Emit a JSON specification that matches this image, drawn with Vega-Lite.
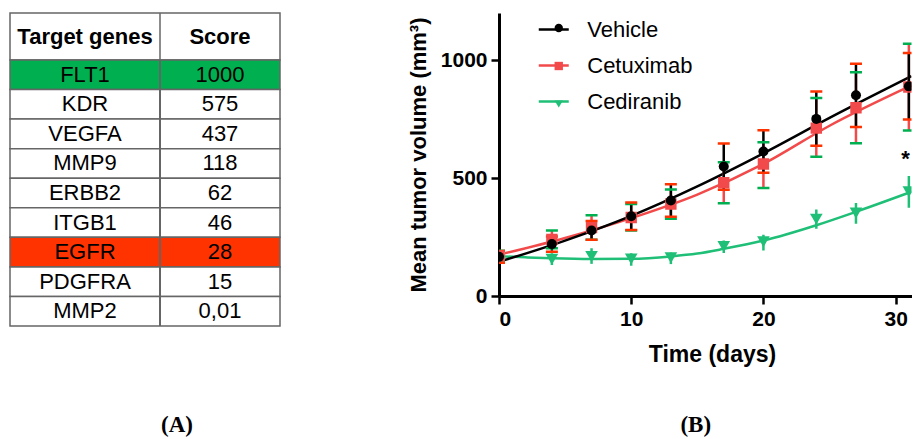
{
  "$schema": "https://vega.github.io/schema/vega-lite/v6.json",
  "background": "white",
  "padding": {"left": 9, "top": 12, "right": 0, "bottom": 0},
  "autosize": {"type": "pad"},
  "config": {
    "view": {"stroke": null},
    "font": "Liberation Sans",
    "axis": {"domainColor": "black", "domainWidth": 3, "tickColor": "black", "tickWidth": 2.5, "tickSize": 8, "labelFont": "Liberation Sans", "labelFontSize": 21, "labelFontWeight": "bold", "labelColor": "black", "titleFont": "Liberation Sans", "titleFontSize": 23, "titleFontWeight": "bold", "titleColor": "black", "grid": false}
  },
  "datasets": {
    "header": [{"gene": "Target genes", "score": "Score"}],
    "table": [
      {"gene": "FLT1", "score": "1000", "hl": "green"},
      {"gene": "KDR", "score": "575", "hl": "none"},
      {"gene": "VEGFA", "score": "437", "hl": "none"},
      {"gene": "MMP9", "score": "118", "hl": "none"},
      {"gene": "ERBB2", "score": "62", "hl": "none"},
      {"gene": "ITGB1", "score": "46", "hl": "none"},
      {"gene": "EGFR", "score": "28", "hl": "red"},
      {"gene": "PDGFRA", "score": "15", "hl": "none"},
      {"gene": "MMP2", "score": "0,01", "hl": "none"}
    ],
    "obs": [
      {"series": "Cediranib", "day": 0, "mean": 168, "lo": 150, "hi": 186},
      {"series": "Cediranib", "day": 4, "mean": 156, "lo": 126, "hi": 187},
      {"series": "Cediranib", "day": 7, "mean": 168, "lo": 131, "hi": 208},
      {"series": "Cediranib", "day": 10, "mean": 157, "lo": 123, "hi": 187},
      {"series": "Cediranib", "day": 13, "mean": 162, "lo": 130, "hi": 190},
      {"series": "Cediranib", "day": 17, "mean": 210, "lo": 177, "hi": 241},
      {"series": "Cediranib", "day": 20, "mean": 230, "lo": 188, "hi": 265},
      {"series": "Cediranib", "day": 24, "mean": 326, "lo": 280, "hi": 372},
      {"series": "Cediranib", "day": 27, "mean": 352, "lo": 301, "hi": 400},
      {"series": "Cediranib", "day": 31, "mean": 442, "lo": 369, "hi": 514},
      {"series": "Cetuximab", "day": 0, "mean": 170, "lo": 148, "hi": 192},
      {"series": "Cetuximab", "day": 4, "mean": 240, "lo": 202, "hi": 278},
      {"series": "Cetuximab", "day": 7, "mean": 290, "lo": 238, "hi": 342},
      {"series": "Cetuximab", "day": 10, "mean": 333, "lo": 278, "hi": 390},
      {"series": "Cetuximab", "day": 13, "mean": 390, "lo": 328, "hi": 452},
      {"series": "Cetuximab", "day": 17, "mean": 480, "lo": 393, "hi": 567},
      {"series": "Cetuximab", "day": 20, "mean": 560, "lo": 458, "hi": 652},
      {"series": "Cetuximab", "day": 24, "mean": 712, "lo": 590, "hi": 840},
      {"series": "Cetuximab", "day": 27, "mean": 798, "lo": 648, "hi": 949},
      {"series": "Cetuximab", "day": 31, "mean": 886, "lo": 702, "hi": 1070},
      {"series": "Vehicle", "day": 0, "mean": 166, "lo": 141, "hi": 191},
      {"series": "Vehicle", "day": 4, "mean": 220, "lo": 188, "hi": 252},
      {"series": "Vehicle", "day": 7, "mean": 278, "lo": 238, "hi": 318},
      {"series": "Vehicle", "day": 10, "mean": 338, "lo": 280, "hi": 396},
      {"series": "Vehicle", "day": 13, "mean": 405, "lo": 336, "hi": 474},
      {"series": "Vehicle", "day": 17, "mean": 549, "lo": 451, "hi": 647},
      {"series": "Vehicle", "day": 20, "mean": 613, "lo": 523, "hi": 703},
      {"series": "Vehicle", "day": 24, "mean": 751, "lo": 637, "hi": 867},
      {"series": "Vehicle", "day": 27, "mean": 851, "lo": 717, "hi": 985},
      {"series": "Vehicle", "day": 31, "mean": 889, "lo": 748, "hi": 1030}
    ],
    "fit": [
      {"series": "Cediranib", "day": 0, "v": 169},
      {"series": "Cediranib", "day": 2, "v": 164},
      {"series": "Cediranib", "day": 4, "v": 160},
      {"series": "Cediranib", "day": 7, "v": 157},
      {"series": "Cediranib", "day": 10, "v": 158},
      {"series": "Cediranib", "day": 13, "v": 168},
      {"series": "Cediranib", "day": 15, "v": 180},
      {"series": "Cediranib", "day": 17, "v": 200},
      {"series": "Cediranib", "day": 20, "v": 235},
      {"series": "Cediranib", "day": 24, "v": 300},
      {"series": "Cediranib", "day": 27, "v": 357},
      {"series": "Cediranib", "day": 31.2, "v": 442},
      {"series": "Cetuximab", "day": 0, "v": 175},
      {"series": "Cetuximab", "day": 5, "v": 246},
      {"series": "Cetuximab", "day": 10, "v": 330},
      {"series": "Cetuximab", "day": 15, "v": 430},
      {"series": "Cetuximab", "day": 20, "v": 560},
      {"series": "Cetuximab", "day": 25, "v": 722},
      {"series": "Cetuximab", "day": 31.2, "v": 893},
      {"series": "Vehicle", "day": 0, "v": 145},
      {"series": "Vehicle", "day": 5, "v": 235},
      {"series": "Vehicle", "day": 10, "v": 340},
      {"series": "Vehicle", "day": 15, "v": 465},
      {"series": "Vehicle", "day": 20, "v": 605},
      {"series": "Vehicle", "day": 25, "v": 755},
      {"series": "Vehicle", "day": 31.2, "v": 932}
    ],
    "note": [{"day": 30.75, "v": 552, "label": "*"}]
  },
  "hconcat": [
    {
      "vconcat": [
        {
          "width": 270,
          "height": 47,
          "data": {"name": "header"},
          "transform": [{"fold": ["gene", "score"], "as": ["col", "val"]}],
          "layer": [
            {
              "transform": [{"filter": "datum.col === 'gene'"}],
              "mark": {"type": "rect", "fill": "white", "stroke": "#666666", "strokeWidth": 1.5},
              "encoding": {}
            },
            {
              "transform": [{"filter": "datum.col === 'gene'"}],
              "mark": {"type": "rule", "color": "#666666", "strokeWidth": 1.5, "xOffset": 15},
              "encoding": {"x": {"datum": "score", "type": "nominal", "bandPosition": 0, "scale": {"type": "band", "domain": ["gene", "score"], "paddingInner": 0, "paddingOuter": 0}, "axis": null}}
            },
            {
              "mark": {"type": "text", "fontSize": 22, "fontWeight": "bold", "xOffset": 7.5, "baseline": "middle", "color": "black"},
              "encoding": {
                "x": {"field": "col", "type": "nominal", "scale": {"type": "band", "domain": ["gene", "score"], "paddingInner": 0, "paddingOuter": 0}, "axis": null},
                "text": {"field": "val"}
              }
            }
          ]
        },
        {
          "width": 270,
          "height": 266,
          "data": {"name": "table"},
          "encoding": {"y": {"field": "gene", "type": "nominal", "sort": null, "scale": {"type": "band", "paddingInner": 0, "paddingOuter": 0}, "axis": null}},
          "layer": [
            {
              "mark": {"type": "rect", "stroke": "#666666", "strokeWidth": 1.5},
              "encoding": {"fill": {"field": "hl", "type": "nominal", "scale": {"domain": ["none", "green", "red"], "range": ["white", "#00B050", "#FF3300"]}, "legend": null}}
            },
            {
              "mark": {"type": "rule", "color": "#666666", "strokeWidth": 1.5, "xOffset": 15},
              "encoding": {"x": {"datum": "score", "type": "nominal", "bandPosition": 0, "scale": {"type": "band", "domain": ["gene", "score"], "paddingInner": 0, "paddingOuter": 0}, "axis": null}, "y": null}
            },
            {
              "transform": [{"fold": ["gene", "score"], "as": ["col", "val"]}],
              "mark": {"type": "text", "fontSize": 22, "xOffset": 7.5, "baseline": "middle", "color": "black"},
              "encoding": {
                "x": {"field": "col", "type": "nominal", "scale": {"type": "band", "domain": ["gene", "score"], "paddingInner": 0, "paddingOuter": 0}, "axis": null},
                "text": {"field": "val"}
              }
            }
          ]
        }
      ],
      "spacing": 0,
      "bounds": "flush",
      "title": {"text": "(A)", "orient": "bottom", "anchor": "middle", "offset": 87, "dx": 32, "font": "Liberation Serif", "fontSize": 23, "fontWeight": "bold", "color": "black"}
    },
    {
      "width": 412.5,
      "height": 283,
      "title": {"text": "(B)", "orient": "bottom", "anchor": "middle", "offset": 48, "dx": -9.5, "font": "Liberation Serif", "fontSize": 23, "fontWeight": "bold", "color": "black"},
      "encoding": {
        "x": {"field": "day", "type": "quantitative", "scale": {"domain": [0, 31.2], "nice": false, "zero": false}, "axis": {"title": "Time (days)", "values": [0, 10, 20, 30], "labelPadding": 4, "titlePadding": 14, "titleX": 213}}
      },
      "layer": [
        {
          "data": {"name": "fit"},
          "mark": {"type": "line", "strokeWidth": 2.5, "interpolate": "monotone", "clip": true},
          "encoding": {
            "y": {"field": "v", "type": "quantitative", "scale": {"domain": [0, 1200], "nice": false}, "axis": {"title": "Mean tumor volume (mm³)", "titleFontSize": 22, "values": [0, 500, 1000], "format": "d", "labelPadding": 4, "titlePadding": 10}},
            "stroke": {
              "field": "series", "type": "nominal",
              "scale": {"domain": ["Vehicle", "Cetuximab", "Cediranib", "_"], "range": ["#000000", "#F24A4A", "#1FBF77", "#000000"]},
              "legend": {"values": ["Vehicle", "Cetuximab", "Cediranib"], "title": null, "orient": "none", "legendX": 527.25, "legendY": 0, "padding": 0, "symbolType": "stroke", "symbolSize": 900, "symbolStrokeWidth": 2.5, "labelFont": "Liberation Sans", "labelFontSize": 22, "labelColor": "black", "labelOffset": 17, "rowPadding": 8}
            }
          }
        },
        {
          "data": {"name": "obs"},
          "mark": {"type": "rule", "strokeWidth": 2.5, "clip": true},
          "encoding": {
            "y": {"field": "lo", "type": "quantitative"},
            "y2": {"field": "hi"},
            "stroke": {
              "field": "series", "type": "nominal",
              "scale": {"domain": ["Vehicle", "Cetuximab", "Cediranib", "_"], "range": ["#000000", "#F24A4A", "#1FBF77", "#000000"]},
              "legend": {"values": ["Vehicle", "Cetuximab", "Cediranib"], "title": null, "orient": "none", "legendX": 527.25, "legendY": 0, "padding": 0, "symbolType": "stroke", "symbolSize": 900, "symbolStrokeWidth": 2.5, "labelFont": "Liberation Sans", "labelFontSize": 22, "labelColor": "black", "labelOffset": 17, "rowPadding": 8}
            }
          }
        },
        {
          "data": {"name": "obs"},
          "mark": {"type": "tick", "orient": "horizontal", "size": 12, "thickness": 2.5, "opacity": 1, "clip": true},
          "encoding": {
            "y": {"field": "hi", "type": "quantitative"},
            "fill": {"field": "series", "type": "nominal", "scale": {"domain": ["Cediranib", "Cetuximab", "Vehicle"], "range": ["#1FBF77", "#F24A4A", "#000000"]}, "legend": null}
          }
        },
        {
          "data": {"name": "obs"},
          "mark": {"type": "tick", "orient": "horizontal", "size": 12, "thickness": 2.5, "opacity": 1, "clip": true},
          "encoding": {
            "y": {"field": "lo", "type": "quantitative"},
            "fill": {"field": "series", "type": "nominal", "scale": {"domain": ["Cediranib", "Cetuximab", "Vehicle"], "range": ["#1FBF77", "#F24A4A", "#000000"]}, "legend": null}
          }
        },
        {
          "data": {"name": "obs"},
          "mark": {"type": "point", "filled": true, "opacity": 1, "clip": true},
          "encoding": {
            "y": {"field": "mean", "type": "quantitative"},
            "size": {"field": "series", "type": "nominal", "scale": {"domain": ["Cediranib", "Cetuximab", "Vehicle"], "range": [160, 100, 140]}, "legend": null},
            "shape": {
              "field": "series", "type": "nominal",
              "scale": {"domain": ["Vehicle", "Cetuximab", "Cediranib"], "range": ["circle", "square", "triangle-down"]},
              "legend": {"title": null, "orient": "none", "legendX": 537.75, "legendY": 4, "padding": 0, "symbolSize": 70, "symbolStrokeWidth": 0, "symbolOpacity": 1, "labelFont": "Liberation Sans", "labelFontSize": 22, "labelColor": "transparent", "labelExpr": "''", "labelOffset": 17, "rowPadding": 16}
            },
            "color": {
              "field": "series", "type": "nominal",
              "scale": {"domain": ["Vehicle", "Cetuximab", "Cediranib"], "range": ["#000000", "#F24A4A", "#1FBF77"]},
              "legend": {"title": null, "orient": "none", "legendX": 537.75, "legendY": 4, "padding": 0, "symbolSize": 70, "symbolStrokeWidth": 0, "symbolOpacity": 1, "labelFont": "Liberation Sans", "labelFontSize": 22, "labelColor": "transparent", "labelExpr": "''", "labelOffset": 17, "rowPadding": 16}
            }
          }
        },
        {
          "data": {"name": "note"},
          "mark": {"type": "text", "fontSize": 22, "fontWeight": "bold", "baseline": "alphabetic", "color": "black", "clip": true},
          "encoding": {
            "y": {"field": "v", "type": "quantitative"},
            "text": {"field": "label"}
          }
        }
      ]
    }
  ],
  "spacing": 126,
  "bounds": "full"
}
